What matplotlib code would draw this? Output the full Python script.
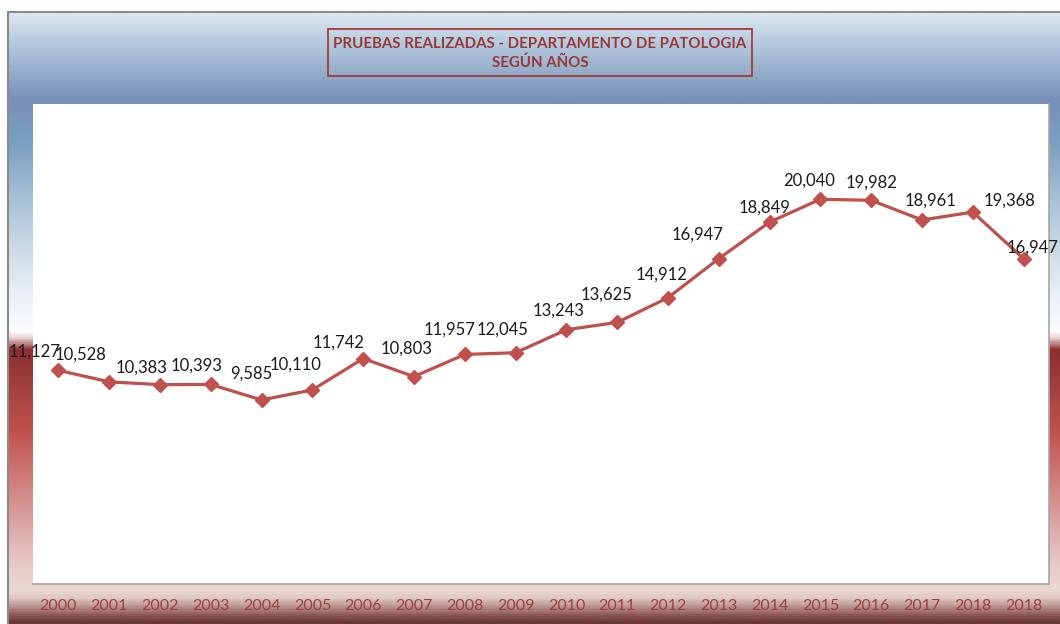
import numpy as np
import matplotlib
matplotlib.use("Agg")
import matplotlib.pyplot as plt
from matplotlib.colors import LinearSegmentedColormap
from matplotlib.patches import Rectangle

plt.rcParams['font.family'] = ['Lato', 'DejaVu Sans']

# data
years  = ["2000", "2001", "2002", "2003", "2004", "2005", "2006", "2007", "2008", "2009",
          "2010", "2011", "2012", "2013", "2014", "2015", "2016", "2017", "2018", "2018"]
tests  = [11127, 10528, 10383, 10393, 9585, 10110, 11742, 10803, 11957, 12045,
          13243, 13625, 14912, 16947, 18849, 20040, 19982, 18961, 19368, 16947]
title_lines = ["PRUEBAS REALIZADAS - DEPARTAMENTO DE PATOLOGIA", "SEGÚN AÑOS"]

# label offsets in pixels (dx, dy), styling only
label_dx = [-24, -29, -18, -14, -10, -17, -25, -7, -15, -13,
            -8, -11, -6, -21, -5, -11, 0, 9, 37, 9]
label_dy = [19, 27, 17, 19, 26, 25, 16, 28, 25, 23,
            19, 28, 23, 24, 14, 19, 18, 19, 12, 11]

W, H = 1060, 624
red  = "#c0504d"
dark_red = "#9b3735"

fig = plt.figure(figsize=(W / 100, H / 100), dpi=100)
fig.patch.set_facecolor("white")

# background frame with vertical gradient
bg = fig.add_axes([0, 0, 1, 1])
bg.set_xlim(0, W)
bg.set_ylim(H, 0)
bg.axis("off")
stops = [(12, "#dce8f2"), (40, "#b6cbdf"), (70, "#94aecb"), (100, "#7890b9"),
         (140, "#7a9ec0"), (200, "#a8c1d6"), (250, "#cddce8"), (300, "#edf2f7"),
         (332, "#fbfcfd"), (338, "#e8d2d1"), (350, "#8b2f2f"), (400, "#ab4643"),
         (430, "#c0504d"), (470, "#cc7370"), (520, "#d9a19f"), (560, "#e5c6c3"),
         (592, "#ebd8d4"), (600, "#dfc7c2"), (609, "#b48d89"), (617, "#8c5752"),
         (624, "#683832")]
pos = [(y - 12) / (H - 12) for y, c in stops]
cmap = LinearSegmentedColormap.from_list("bg", list(zip(pos, [c for y, c in stops])))
grad = np.linspace(0, 1, 600).reshape(-1, 1)
bg.imshow(grad, cmap=cmap, aspect="auto", extent=[8, W, H, 12], interpolation="bilinear")
bg.plot([8, 8], [12, H], color="#8a8a8a", lw=1.5)
bg.plot([8, W], [12, 12], color="#8a8a8a", lw=1.5)

# title box
bg.add_patch(Rectangle((328, 29), 424, 47, fill=False, edgecolor="#a83a37", lw=1.3))
bg.text(540, 44, title_lines[0], ha="center", va="center", fontsize=10.8,
        fontweight="bold", color=dark_red)
bg.text(540, 63, title_lines[1], ha="center", va="center", fontsize=10.8,
        fontweight="bold", color=dark_red)

# plot area
ax = fig.add_axes([33 / W, (H - 584) / H, (1049 - 33) / W, (584 - 104) / H])
ax.set_facecolor("white")
x = np.arange(len(years))
ax.plot(x, tests, color=red, lw=2.3, marker="D", markersize=7.5,
        markerfacecolor=red, markeredgecolor=red, zorder=3)
for i, v in enumerate(tests):
    ax.annotate(f"{v:,}", (x[i], v), xytext=(label_dx[i], label_dy[i]),
                textcoords="offset pixels", ha="center", va="center",
                fontsize=12, color="#1a1a1a", annotation_clip=False)

ax.set_xlim(-0.5, len(years) - 0.5)
ax.set_ylim(0, 25000)
ax.set_yticks([])
ax.set_xticks(x)
ax.set_xticklabels(years, fontsize=11.5, color="#a0403d")
ax.tick_params(axis="x", length=0, pad=11)
for s in ["left", "top"]:
    ax.spines[s].set_visible(False)
for s in ["bottom", "right"]:
    ax.spines[s].set_color("#a6a6a6")
    ax.spines[s].set_linewidth(1.2)

fig.savefig("out.png", dpi=100)
